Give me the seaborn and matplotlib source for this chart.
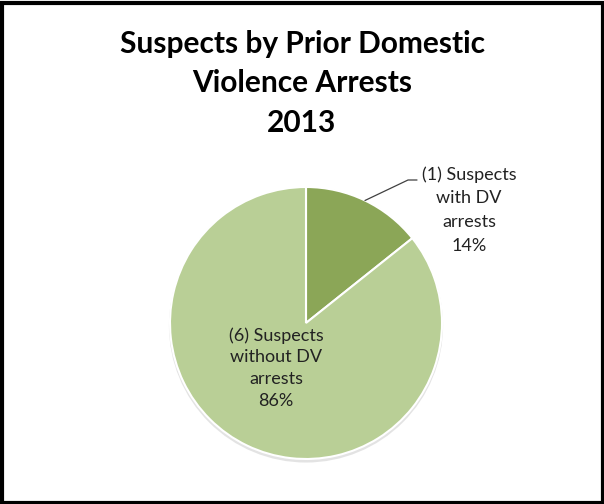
import matplotlib
matplotlib.use("Agg")
import matplotlib.pyplot as plt
import seaborn as sns
from matplotlib.patches import Circle, Rectangle
import numpy as np

# Data
categories = ["(1) Suspects\nwith DV\narrests", "(6) Suspects\nwithout DV\narrests"]
counts = [1, 6]
percents = ["14%", "86%"]
title = "Suspects by Prior Domestic\nViolence Arrests\n2013"
colors = ["#8ba657", "#b9cf96"]

sns.set_theme(style="white")
plt.rcParams["font.family"] = ["Lato", "DejaVu Sans"]

W, H = 604, 504
fig = plt.figure(figsize=(W / 100, H / 100), dpi=100)
fig.patch.set_facecolor("white")

# pie center in pixels (306, 323), radius 136 px; axes box +-150 px
cx, cy, R, half = 306, 323, 136, 150
ax = fig.add_axes([(cx - half) / W, (H - cy - half) / H, 2 * half / W, 2 * half / H])
lim = half / R
ax.set_xlim(-lim, lim)
ax.set_ylim(-lim, lim)
ax.set_aspect("equal")
ax.axis("off")

# soft shadow
ax.add_patch(Circle((0.0, -0.018), 1.008, color="#c8c8c8", alpha=0.5, zorder=0, lw=0))

wedges, _ = ax.pie(counts, colors=colors, startangle=90, counterclock=False,
                   radius=1.0, wedgeprops=dict(edgecolor="white", linewidth=1.5),
                   center=(0, 0), frame=False)
for w in wedges:
    w.set_zorder(2)
ax.set_xlim(-lim, lim)
ax.set_ylim(-lim, lim)

def px(x, y):
    return x / W, 1 - y / H

# Title
fig.text(*px(302, 83), title, ha="center", va="center", fontsize=21.5,
         fontweight="bold", color="black", linespacing=1.5)

# Label for small slice with leader line
w0 = wedges[0]
mid = np.deg2rad((w0.theta1 + w0.theta2) / 2)
sx, sy = np.cos(mid), np.sin(mid)
fig.text(*px(469, 210), categories[0] + "\n" + percents[0], ha="center", va="center",
         fontsize=13, color="#222222", linespacing=1.6)
# leader line: from wedge edge to label
lx = (408 - cx) / R
ly = (cy - 180) / R
lx2 = (417 - cx) / R
ax.plot([sx, lx, lx2], [sy, ly, ly], color="#404040", lw=0.9, zorder=3, clip_on=False)

# Label for big slice
fig.text(*px(276, 368), categories[1] + "\n" + percents[1], ha="center", va="center",
         fontsize=13, color="#222222", linespacing=1.45)

# Frame border
fig.add_artist(Rectangle((1.5 / W, 1.5 / H), (W - 3) / W, (H - 4) / H, transform=fig.transFigure,
                         fill=False, edgecolor="black", linewidth=3))

fig.savefig("out.png", dpi=100)
